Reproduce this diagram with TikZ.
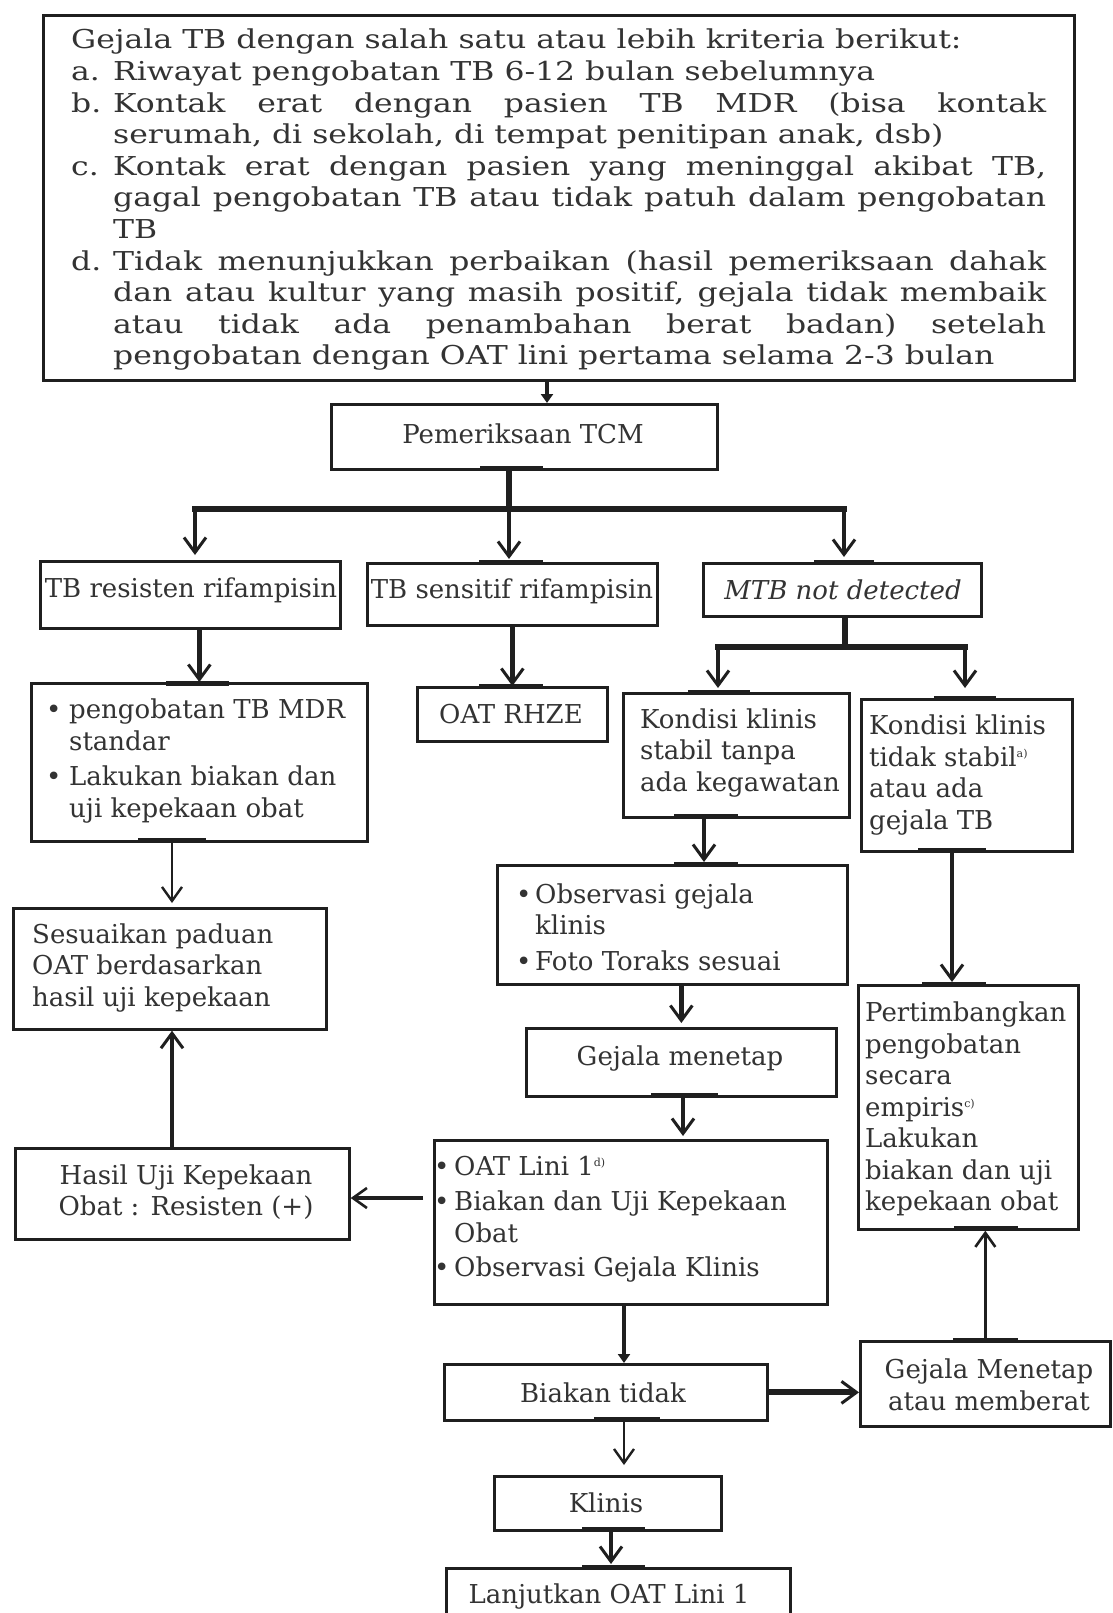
\documentclass[tikz,border=0pt]{standalone}
\usepackage{fontspec}
\setmainfont{DejaVu Serif}
\newfontfamily\topfont[FakeStretch=1.21]{DejaVu Serif}
\usetikzlibrary{arrows.meta}
\definecolor{ink}{gray}{0.12}
\definecolor{txt}{gray}{0.2}
\newcommand\mkbox[5]{\node[box, anchor=north west, minimum width={#4-#2}, minimum height={#5-#3}] (#1) at (#2,#3) {};}
\newcommand\bul{\makebox[20pt][l]{\textbullet}}
\newcommand\ind{\hspace*{20pt}}
\newcommand\supx[1]{\raisebox{9pt}{\fontsize{11}{11}\selectfont #1}}
\begin{document}
\begin{tikzpicture}[x=1pt,y=-1pt,
  box/.style={draw=ink, line width=2.7pt, inner sep=0pt, fill=white},
  lbl/.style={text=txt, inner sep=0pt, font=\fontsize{26}{31.5}\selectfont, align=left},
  clbl/.style={lbl, align=center},
  arr/.style={draw=ink, line width=4.5pt, -{Straight Barb[length=15pt,width=22pt,line width=3pt]}},
  arrthin/.style={draw=ink, line width=2.6pt, -{Straight Barb[length=14pt,width=20pt,line width=2.4pt]}},
  arrmid/.style={draw=ink, line width=3.2pt, -{Straight Barb[length=14pt,width=20pt,line width=2.6pt]}},
  arrtri/.style={draw=ink, line width=4pt, -{Triangle[length=9pt,width=12pt]}},
  bar/.style={draw=ink, line width=5.5pt},
  stub/.style={draw=ink, line width=5pt},
]
\useasboundingbox (0,0) rectangle (1112,1613);
\clip (0,0) rectangle (1112,1613);
\fill[white] (0,0) rectangle (1112,1613);

% boxes
\mkbox{top}{42}{14}{1073}{379}
\mkbox{tcm}{330}{403}{716}{468}
\mkbox{res}{39}{560}{339}{627}
\mkbox{sens}{366}{562}{656}{624}
\mkbox{mtb}{702}{562}{980}{615}
\mkbox{mdr}{30}{682}{366}{840}
\mkbox{rhze}{416}{686}{606}{740}
\mkbox{stab}{622}{692}{848}{816}
\mkbox{unstab}{860}{698}{1071}{850}
\mkbox{sesu}{12}{907}{325}{1028}
\mkbox{obs}{496}{864}{846}{983}
\mkbox{gm}{525}{1027}{835}{1095}
\mkbox{lini}{433}{1139}{826}{1303}
\mkbox{pert}{857}{984}{1077}{1228}
\mkbox{hasil}{14}{1147}{348}{1238}
\mkbox{biak}{443}{1363}{766}{1419}
\mkbox{gmb}{859}{1340}{1109}{1425}
\mkbox{klin}{493}{1475}{720}{1529}
\mkbox{lanj}{445}{1567}{789}{1640}

% texts
\node[lbl, anchor=west, font=\topfont\fontsize{26}{31.6}\selectfont] (L-top) at (71,200) {%
Gejala TB dengan salah satu atau lebih kriteria berikut:\\
\makebox[42pt][l]{a.}Riwayat pengobatan TB 6-12 bulan sebelumnya\\
\makebox[42pt][l]{b.}\makebox[933pt][s]{Kontak erat dengan pasien TB MDR (bisa kontak}\\
\hspace*{42pt}serumah, di sekolah, di tempat penitipan anak, dsb)\\
\makebox[42pt][l]{c.}\makebox[933pt][s]{Kontak erat dengan pasien yang meninggal akibat TB,}\\
\hspace*{42pt}\makebox[933pt][s]{gagal pengobatan TB atau tidak patuh dalam pengobatan}\\
\hspace*{42pt}TB\\
\makebox[42pt][l]{d.}\makebox[933pt][s]{Tidak menunjukkan perbaikan (hasil pemeriksaan dahak}\\
\hspace*{42pt}\makebox[933pt][s]{dan atau kultur yang masih positif, gejala tidak membaik}\\
\hspace*{42pt}\makebox[933pt][s]{atau tidak ada penambahan berat badan) setelah}\\
\hspace*{42pt}pengobatan dengan OAT lini pertama selama 2-3 bulan};

\node[clbl] (L-tcm) at (523,434) {Pemeriksaan TCM};
\node[clbl] (L-res) at (191,590) {TB resisten rifampisin};
\node[clbl] (L-sens) at (512,591) {TB sensitif rifampisin};
\node[clbl, font=\itshape\fontsize{26}{31.5}\selectfont] (L-mtb) at (843,590) {MTB not detected};
\node[lbl, anchor=west] (L-mdr) at (46,761) {\makebox[23pt][l]{\textbullet}pengobatan TB MDR\\\hspace*{23pt}standar\\[4pt]\makebox[23pt][l]{\textbullet}Lakukan biakan dan\\\hspace*{23pt}uji kepekaan obat};
\node[clbl] (L-rhze) at (511,714) {OAT RHZE};
\node[lbl, anchor=west] (L-stab) at (640,753) {Kondisi klinis\\stabil tanpa\\ada kegawatan};
\node[lbl, anchor=west] (L-unstab) at (869,775) {Kondisi klinis\\tidak stabil\supx{a)}\\atau ada\\gejala TB};
\node[lbl, anchor=west] (L-sesu) at (32,968) {Sesuaikan paduan\\OAT berdasarkan\\hasil uji kepekaan};
\node[lbl, anchor=west] (L-obs) at (516,927) {\makebox[19pt][l]{\textbullet}Observasi gejala\\\hspace*{19pt}klinis\\[4pt]\makebox[19pt][l]{\textbullet}Foto Toraks sesuai};
\node[clbl] (L-gm) at (680,1058) {Gejala menetap};
\node[lbl, anchor=west] (L-lini) at (434,1219) {\bul OAT Lini 1\supx{d)}\\[4pt]\bul Biakan dan Uji Kepekaan\\\ind Obat\\[3pt]\bul Observasi Gejala Klinis};
\node[lbl, anchor=west] (L-pert) at (865,1109) {Pertimbangkan\\pengobatan\\secara\\empiris\supx{c)}\\Lakukan\\biakan dan uji\\kepekaan obat};
\node[clbl] (L-hasil) at (186,1192) {Hasil Uji Kepekaan\\Obat : Resisten (+)};
\node[clbl] (L-biak) at (603,1393) {Biakan tidak};
\node[clbl] (L-gmb) at (989,1385) {Gejala Menetap\\atau memberat};
\node[clbl] (L-klin) at (606,1503) {Klinis};
\node[clbl] (L-lanj) at (609,1596) {Lanjutkan OAT Lini 1};

% helper coordinates
\coordinate (xa) at (547,0);
\coordinate (s1) at (509,509);
\coordinate (s1l) at (195,509);
\coordinate (s1r) at (844,509);
\coordinate (s2) at (845,647);
\coordinate (s2l) at (718,647);
\coordinate (s2r) at (965,647);
\coordinate (xb) at (704,0);
\coordinate (xc) at (683,0);
\coordinate (xd) at (624,0);
\coordinate (xe) at (611,0);
\coordinate (xf) at (952,0);
\coordinate (xg) at (172,0);
\coordinate (yh) at (0,1198);

% connectors
\draw[arrtri] (top.south -| xa) -- (tcm.north -| xa);
\draw[bar] (tcm.south -| s1) -- (s1);
\draw[bar, line cap=rect] (s1l) -- (s1r);
\draw[arr] (s1l) -- ([yshift=5pt]res.north -| s1l);
\draw[arr] (s1) -- ([yshift=3pt]sens.north -| s1);
\draw[arr] (s1r) -- ([yshift=5pt]mtb.north -| s1r);
\draw[arr] (res.south -| mdr.north) -- (mdr.north);
\draw[arr] (sens.south -| rhze.north) -- (rhze.north);
\draw[bar] (mtb.south -| s2) -- (s2);
\draw[bar, line cap=rect] (s2l) -- (s2r);
\draw[arr] (s2l) -- ([yshift=4pt]stab.north -| s2l);
\draw[arr] (s2r) -- ([yshift=10pt]unstab.north -| s2r);
\draw[arr] (stab.south -| xb) -- ([yshift=2pt]obs.north -| xb);
\draw[arr] (obs.south -| gm.north) -- ([yshift=4pt]gm.north);
\draw[arr] (gm.south -| xc) -- ([yshift=3pt]lini.north -| xc);
\draw[arrtri] (lini.south -| xd) -- (biak.north -| xd);
\draw[arrthin] (biak.south -| xd) -- ([yshift=10pt]klin.north -| xd);
\draw[arr] (klin.south -| xe) -- ([yshift=3pt]lanj.north -| xe);
\draw[arr, line width=6pt] (biak.east) -- (gmb.west |- biak.east);
\draw[arrmid] (gmb.north) -- (pert.south -| gmb.north);
\draw[arr] (unstab.south -| xf) -- ([yshift=2pt]pert.north -| xf);
\draw[arrthin] (mdr.south -| xg) -- ([yshift=4pt]sesu.north -| xg);
\draw[arr] (hasil.north -| xg) -- (sesu.south -| xg);
\draw[arrmid] ([xshift=-10pt]lini.west |- yh) -- (hasil.east |- yh);

% connection stubs on box edges
\draw[stub] (480,468) -- (543,468);
\draw[stub] (479,562) -- (543,562);
\draw[stub] (479,686) -- (543,686);
\draw[stub] (166,683) -- (229,683);
\draw[stub] (138,840) -- (206,840);
\draw[stub] (814,562) -- (874,562);
\draw[stub] (688,692) -- (750,692);
\draw[stub] (674,816) -- (738,816);
\draw[stub] (934,698) -- (996,698);
\draw[stub] (918,850) -- (986,850);
\draw[stub] (674,864) -- (738,864);
\draw[stub] (651,1095) -- (718,1095);
\draw[stub] (922,984) -- (986,984);
\draw[stub] (954,1228) -- (1018,1228);
\draw[stub] (594,1419) -- (660,1419);
\draw[stub] (582,1529) -- (645,1529);
\draw[stub] (582,1567) -- (645,1567);
\draw[stub] (953,1340) -- (1018,1340);
\end{tikzpicture}
\end{document}
